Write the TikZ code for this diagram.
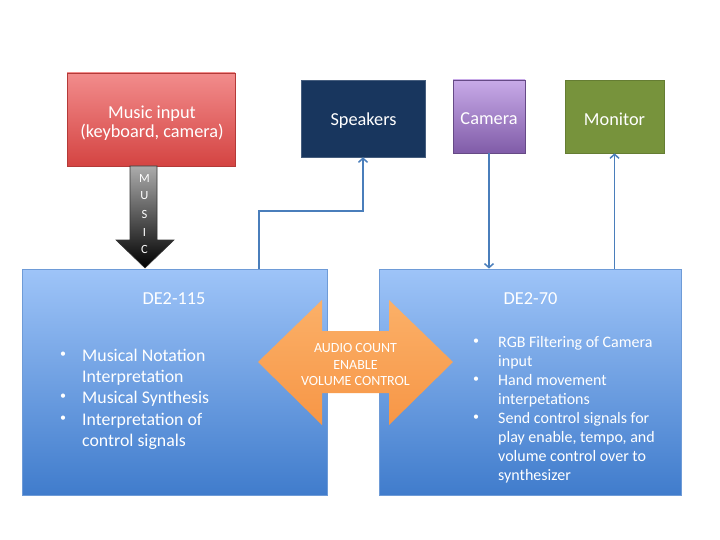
\documentclass[tikz,border=0pt]{standalone}
\usepackage{fontspec}
\setmainfont{Carlito}
\usetikzlibrary{arrows.meta,calc}
\definecolor{redtop}{RGB}{242,140,140}
\definecolor{redbot}{RGB}{212,68,66}
\definecolor{navy}{RGB}{24,54,94}
\definecolor{purtop}{RGB}{200,170,232}
\definecolor{purbot}{RGB}{128,92,168}
\definecolor{olive}{RGB}{119,147,60}
\definecolor{bluetop}{RGB}{158,196,248}
\definecolor{bluebot}{RGB}{64,124,204}
\definecolor{bluedge}{RGB}{110,155,215}
\definecolor{linkc}{RGB}{74,126,187}
\definecolor{orgtop}{RGB}{251,176,104}
\definecolor{orgbot}{RGB}{247,150,70}
\tikzset{
  box/.style={rectangle, inner sep=0pt, text=white, align=center, font=\fontsize{18}{19.5}\selectfont},
  lbl/.style={inner sep=0pt, text=white, align=center, font=\fontsize{18.3}{19.5}\selectfont},
  link/.style={draw=linkc, line width=1.8pt, -{Straight Barb[length=4pt,width=9pt,line width=1.5pt]}},
  itemL/.style={anchor=base west, inner sep=0pt, text=white, font=\fontsize{17.8}{21}\selectfont},
  itemR/.style={anchor=base west, inner sep=0pt, text=white, font=\fontsize{16}{19}\selectfont},
  bulL/.style={anchor=center, inner sep=0pt, text=white, font=\fontsize{12}{14}\selectfont},
}
\begin{document}
\begin{tikzpicture}[x=1pt,y=-1pt]
\useasboundingbox (0,0) rectangle (720,540);
\fill[white] (0,0) rectangle (720,540);

% top boxes
\node[box, minimum width=168pt, minimum height=93pt, top color=redtop, bottom color=redbot, draw=redbot!85!black, line width=0.6pt] (music) at (151,119.5) {};
\node[lbl] at (152,123) {Music input\\(keyboard, camera)};
\node[box, minimum width=124pt, minimum height=77pt, fill=navy, draw=navy!80!white, line width=0.6pt] (spk) at (363,118.5) {};
\node[lbl] at (363.5,121) {Speakers};
\node[box, minimum width=72pt, minimum height=73pt, top color=purtop, bottom color=purbot, draw=purbot!80!black, line width=0.6pt] (cam) at (489,116.5) {};
\node[lbl] at (489,119) {Camera};
\node[box, minimum width=99pt, minimum height=73pt, fill=olive, draw=olive!85!black, line width=0.6pt] (mon) at (614.5,116.5) {};
\node[lbl] at (614.5,119) {Monitor};

% big blue boxes
\node[box, minimum width=305pt, minimum height=226pt, top color=bluetop, bottom color=bluebot, draw=bluedge, line width=0.8pt] (de115) at (174.5,382) {};
\node[box, minimum width=302pt, minimum height=226pt, top color=bluetop, bottom color=bluebot, draw=bluedge, line width=0.8pt] (de70) at (530,382) {};

% MUSIC arrow
\shade[top color=gray!65, bottom color=black, draw=black!80, line width=0.6pt]
  (130,166) -- (157,166) -- (157,240) -- (174,240) -- (145,268) -- (116,240) -- (130,240) -- cycle;
\foreach \l/\yy in {M/178,U/196,S/214,I/232,C/249}
  \node[text=white, font=\fontsize{12.5}{14}\selectfont, inner sep=0pt] at (144.5,\yy) {\l};

% titles
\node[lbl] (t115) at (174,298.5) {DE2-115};
\node[lbl] (t70) at (530.5,298.5) {DE2-70};

% left bullets
\foreach \yy in {355,397,419} \node[bulL] at (63,\yy) {•};
\node[itemL] at (82,361) {Musical Notation};
\node[itemL] at (82,382) {Interpretation};
\node[itemL] at (82,403) {Musical Synthesis};
\node[itemL] at (82,425) {Interpretation of};
\node[itemL] at (82,446) {control signals};

% right bullets
\foreach \yy in {342,380,418} \node[bulL] at (476,\yy) {•};
\node[itemR] at (498,347) {RGB Filtering of Camera};
\node[itemR] at (498,366) {input};
\node[itemR] at (498,385) {Hand movement};
\node[itemR] at (498,404) {interpetations};
\node[itemR] at (498,423) {Send control signals for};
\node[itemR] at (498,442) {play enable, tempo, and};
\node[itemR] at (498,461) {volume control over to};
\node[itemR] at (498,480) {synthesizer};

% orange double arrow
\shade[top color=orgtop, bottom color=orgbot]
  (258,362) -- (322,300) -- (322,331) -- (389,331) -- (389,300) -- (453,362)
  -- (389,425) -- (389,393) -- (322,393) -- (322,425) -- cycle;
\node[text=white, align=center, font=\fontsize{14}{16.5}\selectfont, inner sep=0pt] (bus) at (355.5,365) {AUDIO COUNT\\ENABLE\\VOLUME CONTROL};

% connectors
\coordinate (a1) at ($(de115.north west)+(237,0)$);
\draw[link] (a1) |- (363,211) -- (spk.south);
\draw[link] (cam.south) -- (cam.south |- de70.north);
\coordinate (a2) at (mon.south |- de70.north);
\draw[link] (a2) -- (mon.south);
\end{tikzpicture}
\end{document}
